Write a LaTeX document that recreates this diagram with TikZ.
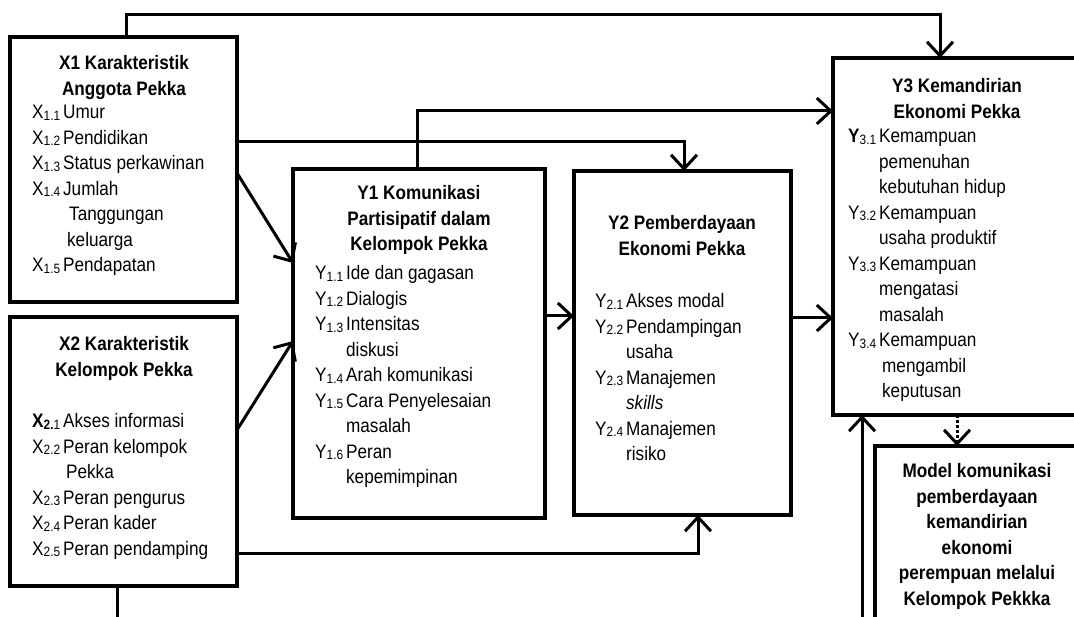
\documentclass[tikz,border=0pt]{standalone}
\usepackage{fontspec}
\setmainfont[FakeStretch=0.88]{Liberation Sans}
\usetikzlibrary{arrows.meta}
\newcommand{\sub}[1]{\raisebox{-1.5pt}{\fontsize{13.5}{13.5}\selectfont #1}}

\begin{document}
\begin{tikzpicture}[x=1pt, y=-1pt,
  box/.style={draw, line width=3.5pt, anchor=north west, inner sep=0, outer sep=0},
  head/.style={anchor=base, inner sep=0, font=\fontsize{19.5}{25.5}\selectfont\bfseries},
  list/.style={anchor=base west, inner sep=0, font=\fontsize{19.5}{25.5}\selectfont},
  link/.style={line width=3pt},
  >={Straight Barb[length=14pt,width=26pt]}]

\useasboundingbox (0,0) rectangle (1074,617);
\clip (0,0) rectangle (1074,617);

% boxes
\node[box, minimum width=227pt, minimum height=265pt] (x1) at (10,37) {};
\node[box, minimum width=227pt, minimum height=269pt] (x2) at (10,317) {};
\node[box, minimum width=252pt, minimum height=349pt] (y1) at (293,169) {};
\node[box, minimum width=217pt, minimum height=344pt] (y2) at (574,171) {};
\node[box, minimum width=250pt, minimum height=357pt] (y3) at (833,58) {};
\node[box, minimum width=205pt, minimum height=200pt] (m) at (875,446) {};

% texts
\node[head] (x1h) at (124,70) {\begin{tabular}[t]{@{}c@{}}X1 Karakteristik\\ Anggota Pekka\end{tabular}};
\node[list] (x1l) at (32,119) {\begin{tabular}[t]{@{}l@{\hspace{3pt}}l@{}}
X\sub{1.1} & Umur\\
X\sub{1.2} & Pendidikan\\
X\sub{1.3} & Status perkawinan\\
X\sub{1.4} & Jumlah\\
 & \hspace{6pt}Tanggungan\\
 & \hspace{4pt}keluarga\\
X\sub{1.5} & Pendapatan
\end{tabular}};

\node[head] (x2h) at (124,351) {\begin{tabular}[t]{@{}c@{}}X2 Karakteristik\\ Kelompok Pekka\end{tabular}};
\node[list] (x2l) at (32,428) {\begin{tabular}[t]{@{}l@{\hspace{3pt}}l@{}}
\textbf{X}\sub{\textbf{2.}1} & Akses informasi\\
X\sub{2.2} & Peran kelompok\\
 & \hspace{3pt}Pekka\\
X\sub{2.3} & Peran pengurus\\
X\sub{2.4} & Peran kader\\
X\sub{2.5} & Peran pendamping
\end{tabular}};

\node[head] (y1h) at (419,200) {\begin{tabular}[t]{@{}c@{}}Y1 Komunikasi\\ Partisipatif dalam\\ Kelompok Pekka\end{tabular}};
\node[list] (y1l) at (315,280) {\begin{tabular}[t]{@{}l@{\hspace{3pt}}l@{}}
Y\sub{1.1} & Ide dan gagasan\\
Y\sub{1.2} & Dialogis\\
Y\sub{1.3} & Intensitas\\
 & diskusi\\
Y\sub{1.4} & Arah komunikasi\\
Y\sub{1.5} & Cara Penyelesaian\\
 & masalah\\
Y\sub{1.6} & Peran\\
 & kepemimpinan
\end{tabular}};

\node[head] (y2h) at (682,230) {\begin{tabular}[t]{@{}c@{}}Y2 Pemberdayaan\\ Ekonomi Pekka\end{tabular}};
\node[list] (y2l) at (595,308) {\begin{tabular}[t]{@{}l@{\hspace{3pt}}l@{}}
Y\sub{2.1} & Akses modal\\
Y\sub{2.2} & Pendampingan\\
 & usaha\\
Y\sub{2.3} & Manajemen\\
 & \textit{skills}\\
Y\sub{2.4} & Manajemen\\
 & risiko
\end{tabular}};

\node[head] (y3h) at (957,93) {\begin{tabular}[t]{@{}c@{}}Y3 Kemandirian\\ Ekonomi Pekka\end{tabular}};
\node[list] (y3l) at (848,143) {\begin{tabular}[t]{@{}l@{\hspace{3pt}}l@{}}
\textbf{Y}\sub{3.1} & Kemampuan\\
 & pemenuhan\\
 & kebutuhan hidup\\
Y\sub{3.2} & Kemampuan\\
 & usaha produktif\\
Y\sub{3.3} & Kemampuan\\
 & mengatasi\\
 & masalah\\
Y\sub{3.4} & Kemampuan\\
 & \hspace{3pt}mengambil\\
 & \hspace{3pt}keputusan
\end{tabular}};

\node[head] (mh) at (977,478) {\begin{tabular}[t]{@{}c@{}}Model komunikasi\\ pemberdayaan\\ kemandirian\\ ekonomi\\ perempuan melalui\\ Kelompok Pekkka\end{tabular}};

% connectors
\draw[link, ->] (x1.north -| 126,0) |- (940,15) -- (y3.north -| 940,0);
\draw[link, ->] (x1.east |- 0,142) -| (y2.north -| 684,0);
\draw[link, ->] (y1.north -| 417,0) |- (y3.west |- 0,111);
\draw[link, ->] (x1.east |- 0,173) -- (y1.west |- 0,263);
\draw[link, ->] (x2.east |- 0,430) -- (y1.west |- 0,341);
\draw[link, ->] (y1.east |- 0,316) -- (y2.west |- 0,316);
\draw[link, ->] (y2.east |- 0,318) -- (y3.west |- 0,318);
\draw[link, ->] (x2.east |- 0,553) -| (y2.south -| 698,0);
\draw[link] (x2.south -| 117,0) -- (117,630);
\draw[link, ->] (862,630) -- (y3.south -| 862,0);
\draw[link, dotted, ->] (y3.south -| 957,0) -- (m.north -| 957,0);
\end{tikzpicture}
\end{document}
